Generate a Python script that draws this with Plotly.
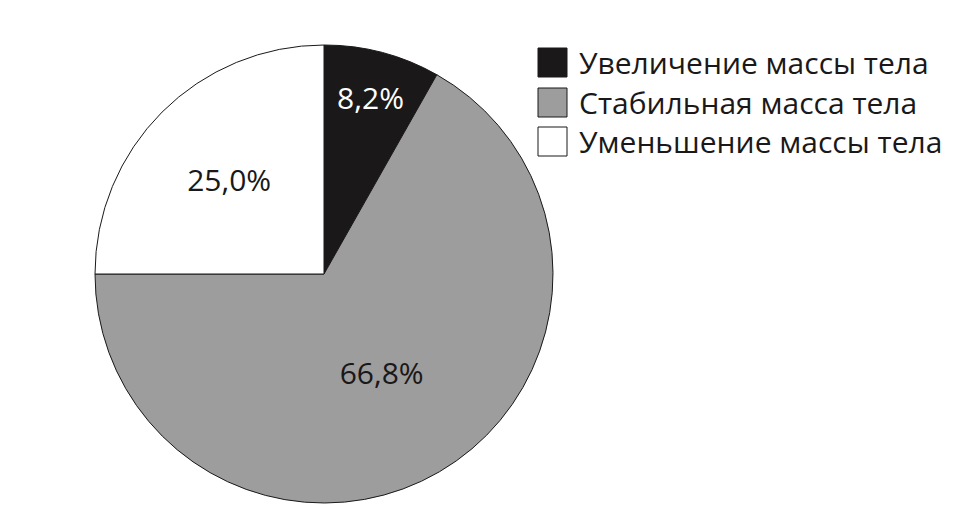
import plotly.graph_objects as go

labels = ["Увеличение массы тела", "Стабильная масса тела", "Уменьшение массы тела"]
values = [8.2, 66.8, 25.0]
text_labels = ["8,2%", "66,8%", "25,0%"]
colors = ["#1a1818", "#9d9d9d", "#ffffff"]
text_colors = ["#ffffff", "#1a1818", "#1a1818"]

FONT = "Open Sans"
W, H = 960, 530
OFF = 8  # page body margin


def px(x):
    return (x - OFF) / W


def py(y):
    return 1 - (y - OFF) / H


fig = go.Figure()
fig.add_trace(go.Pie(
    labels=labels,
    values=values,
    text=text_labels,
    textinfo="text",
    textposition="inside",
    insidetextorientation="horizontal",
    sort=False,
    direction="clockwise",
    rotation=0,
    marker=dict(colors=colors, line=dict(color="#1a1818", width=1)),
    textfont=dict(family=FONT, size=30, color=text_colors),
    domain=dict(x=[px(95), px(553)], y=[py(503), py(45)]),
    showlegend=False,
    hoverinfo="label+text",
))

# custom legend with large square swatches
x0, box = 538, 29
y_tops = [48, 88, 127]
for lab, col, yt in zip(labels, colors, y_tops):
    fig.add_shape(type="rect", xref="paper", yref="paper",
                  x0=px(x0), x1=px(x0 + box),
                  y0=py(yt + box), y1=py(yt),
                  fillcolor=col, line=dict(color="#1a1818", width=1))
    fig.add_annotation(xref="paper", yref="paper", x=px(577), y=py(yt + box / 2),
                       xanchor="left", yanchor="middle", showarrow=False,
                       text=lab, font=dict(family=FONT, size=30, color="#1a1818"))

fig.update_layout(
    width=W, height=H,
    margin=dict(l=0, r=0, t=0, b=0),
    paper_bgcolor="white", plot_bgcolor="white",
)

fig.write_html("out.html")
